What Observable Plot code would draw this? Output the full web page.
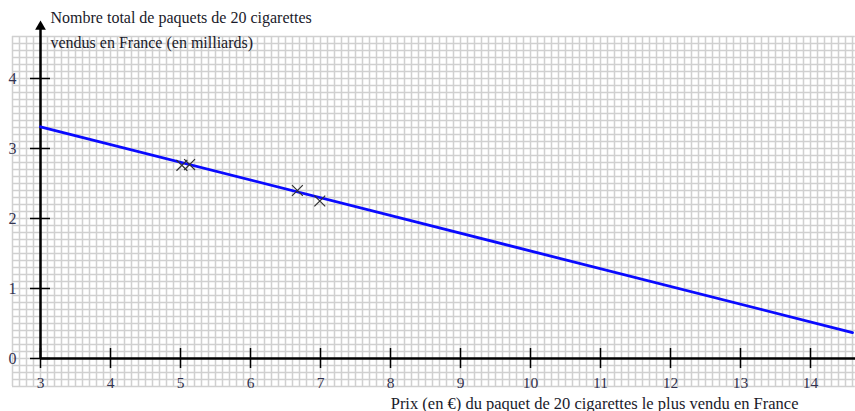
<!DOCTYPE html>
<html><head><meta charset="utf-8">
<script src="https://cdn.jsdelivr.net/npm/d3@7"></script>
<script src="https://cdn.jsdelivr.net/npm/@observablehq/plot@0.6"></script>
<style>body{margin:0;background:#fff}</style>
</head><body><div id="chart"></div>
<script>
const prix = [5.02, 5.13, 6.67, 6.99];
const paquets = [2.76, 2.77, 2.40, 2.25];
const lineX = [3, 14.6];
const lineY = [3.31, 0.37];
const xTicks = [3, 4, 5, 6, 7, 8, 9, 10, 11, 12, 13, 14];
const yTicks = [0, 1, 2, 3, 4];
const titleLines = ["Nombre total de paquets de 20 cigarettes", "vendus en France (en milliards)"];
const xLabel = "Prix (en €) du paquet de 20 cigarettes le plus vendu en France";

const pts = prix.map((p, i) => ({x: p, y: paquets[i]}));
const lin = lineX.map((p, i) => ({x: p, y: lineY[i]}));
const gx = d3.range(26, 147).map(v => v / 10);
const gy = d3.range(-4, 47).map(v => v / 10);
const font = "'Liberation Serif', 'DejaVu Serif', serif";

const chart = Plot.plot({
  width: 855, height: 411,
  margin: 0,
  style: {fontFamily: font, background: "#fff"},
  x: {domain: [3 - 40/70, 3 + 815/70], axis: null},
  y: {domain: [-53/70, 358/70], axis: null},
  marks: [
    Plot.ruleX(gx, {x: d => d, y1: -0.4, y2: 4.6, stroke: "#d0d0d0", strokeWidth: 1.5}),
    Plot.ruleY(gy, {y: d => d, x1: 2.6, x2: 14.64, stroke: "#d0d0d0", strokeWidth: 1.5}),
    Plot.ruleY([0], {x1: 3, x2: 14.7, stroke: "#000", strokeWidth: 2.5}),
    Plot.ruleX([3], {y1: 0, y2: 4.7, stroke: "#000", strokeWidth: 2.5}),
    Plot.dot([3], {x: d => d, y: 4.74, symbol: "triangle", r: 4, fill: "#000", stroke: "none"}),
    Plot.ruleX(xTicks, {x: d => d, y1: -0.143, y2: 0.143, stroke: "#000", strokeWidth: 1.5}),
    Plot.ruleY(yTicks, {y: d => d, x1: 3 - 0.143, x2: 3 + 0.143, stroke: "#000", strokeWidth: 1.5}),
    Plot.text(xTicks, {x: d => d, y: -0.355, text: d => String(d), fontSize: 15.5, fill: "#333350"}),
    Plot.text(yTicks, {x: 2.6, y: d => d, text: d => String(d), fontSize: 16, fill: "#333350"}),
    Plot.line(lin, {x: "x", y: "y", stroke: "#0a0aff", strokeWidth: 2.8}),
    Plot.dot(pts, {x: "x", y: "y", symbol: "times", r: 5, stroke: "#333", strokeWidth: 1.2}),
    Plot.text([titleLines[0]], {frameAnchor: "top-left", dx: 50, dy: 11, text: d => d, textAnchor: "start", fontSize: 16, fill: "#1a1a2a"}),
    Plot.text([titleLines[1]], {frameAnchor: "top-left", dx: 50, dy: 36, text: d => d, textAnchor: "start", fontSize: 16, fill: "#1a1a2a"}),
    Plot.text([xLabel], {frameAnchor: "bottom-right", dx: -57, dy: -3, text: d => d, textAnchor: "end", fontSize: 16.5, fill: "#1a1a2a"})
  ]
});
document.getElementById("chart").append(chart);
</script>
</body></html>
